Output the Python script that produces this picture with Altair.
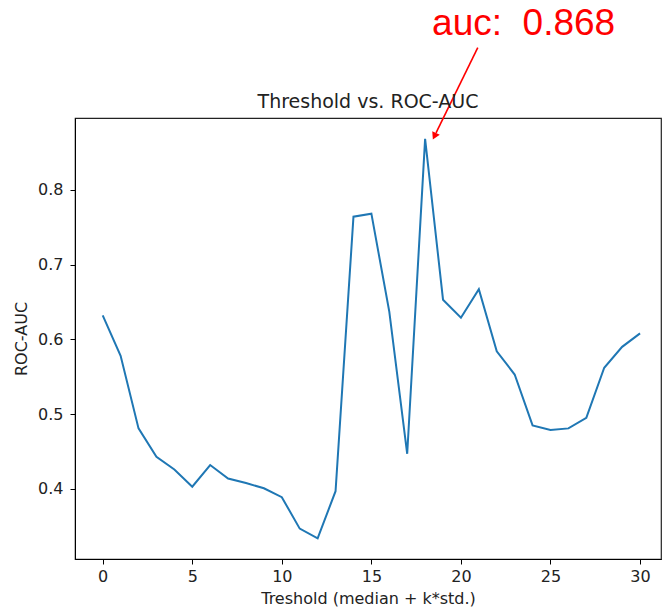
import altair as alt
import pandas as pd

# data
k_values = list(range(31))
auc_values = [0.632, 0.578, 0.481, 0.443, 0.426, 0.403, 0.432, 0.414, 0.408, 0.401,
              0.389, 0.347, 0.334, 0.397, 0.764, 0.768, 0.637, 0.447, 0.868, 0.653,
              0.629, 0.667, 0.584, 0.553, 0.485, 0.479, 0.481, 0.495, 0.562, 0.590,
              0.608]

# annotation (data coordinates, like matplotlib annotate xy / xytext)
annot_text = ["auc:\u00a0 0.868"]
annot_text_xy = [18.39, 1.007]
arrow_tail = [20.94, 0.990]
arrow_end = [18.61, 0.876]
arrow_head = [18.55, 0.873]

title_text = ["Threshold vs. ROC-AUC"]

x_domain = [-1.547, 31.17]
y_domain = [0.3064, 0.8959]
x_ticks = [0, 5, 10, 15, 20, 25, 30]
y_ticks = [0.4, 0.5, 0.6, 0.7, 0.8]

df = pd.DataFrame({"k": k_values, "auc": auc_values})
df_arrow = pd.DataFrame({"k": [arrow_tail[0]], "auc": [arrow_tail[1]],
                         "k2": [arrow_end[0]], "auc2": [arrow_end[1]]})
df_head = pd.DataFrame({"k": [arrow_head[0]], "auc": [arrow_head[1]]})
df_text = pd.DataFrame({"k": [annot_text_xy[0]], "auc": [annot_text_xy[1]], "t": annot_text})
df_title = pd.DataFrame({"t": title_text})

FONT = "DejaVu Sans"
W, H = 586, 441
xs = alt.Scale(domain=x_domain, nice=False, zero=False)
ys = alt.Scale(domain=y_domain, nice=False, zero=False)

x_axis = alt.Axis(values=x_ticks, title="Treshold (median + k*std.)", grid=False,
                  labelFont=FONT, labelFontSize=16, labelColor="#222",
                  titleFont=FONT, titleFontSize=16, titleFontWeight="normal", titleColor="#222",
                  tickColor="black", tickSize=5, domainColor="black", labelPadding=4,
                  titlePadding=6, labelFlush=False)
y_axis = alt.Axis(values=y_ticks, title="ROC-AUC", grid=False, format=".1f",
                  labelFont=FONT, labelFontSize=16, labelColor="#222",
                  titleFont=FONT, titleFontSize=16, titleFontWeight="normal", titleColor="#222",
                  tickColor="black", tickSize=5, domainColor="black", labelPadding=7,
                  titlePadding=8, labelFlush=False)

line = alt.Chart(df).mark_line(color="#1f77b4", strokeWidth=2).encode(
    x=alt.X("k:Q", scale=xs, axis=x_axis),
    y=alt.Y("auc:Q", scale=ys, axis=y_axis),
)

arrow = alt.Chart(df_arrow).mark_rule(color="red", strokeWidth=1.6).encode(
    x=alt.X("k:Q", scale=xs), y=alt.Y("auc:Q", scale=ys),
    x2="k2:Q", y2="auc2:Q",
)

head = alt.Chart(df_head).mark_point(shape="triangle", filled=True, color="red",
                                     size=70, angle=206, opacity=1).encode(
    x=alt.X("k:Q", scale=xs), y=alt.Y("auc:Q", scale=ys),
)

text = alt.Chart(df_text).mark_text(color="red", font="Liberation Sans", fontSize=37,
                                    align="left", baseline="alphabetic").encode(
    x=alt.X("k:Q", scale=xs), y=alt.Y("auc:Q", scale=ys), text="t:N",
)

title = alt.Chart(df_title).mark_text(font=FONT, fontSize=19, color="#222",
                                      align="center", baseline="alphabetic").encode(
    x=alt.value(W / 2), y=alt.value(-10), text="t:N",
)

chart = alt.layer(line, arrow, head, text, title).properties(
    width=W, height=H,
    background="white",
    autosize=alt.AutoSizeParams(type="none"),
    padding={"left": 75, "top": 118, "right": 1, "bottom": 53},
).configure_view(stroke="#222", strokeWidth=1.2)

chart.save("out.html", embed_options={"renderer": "svg", "actions": False})
